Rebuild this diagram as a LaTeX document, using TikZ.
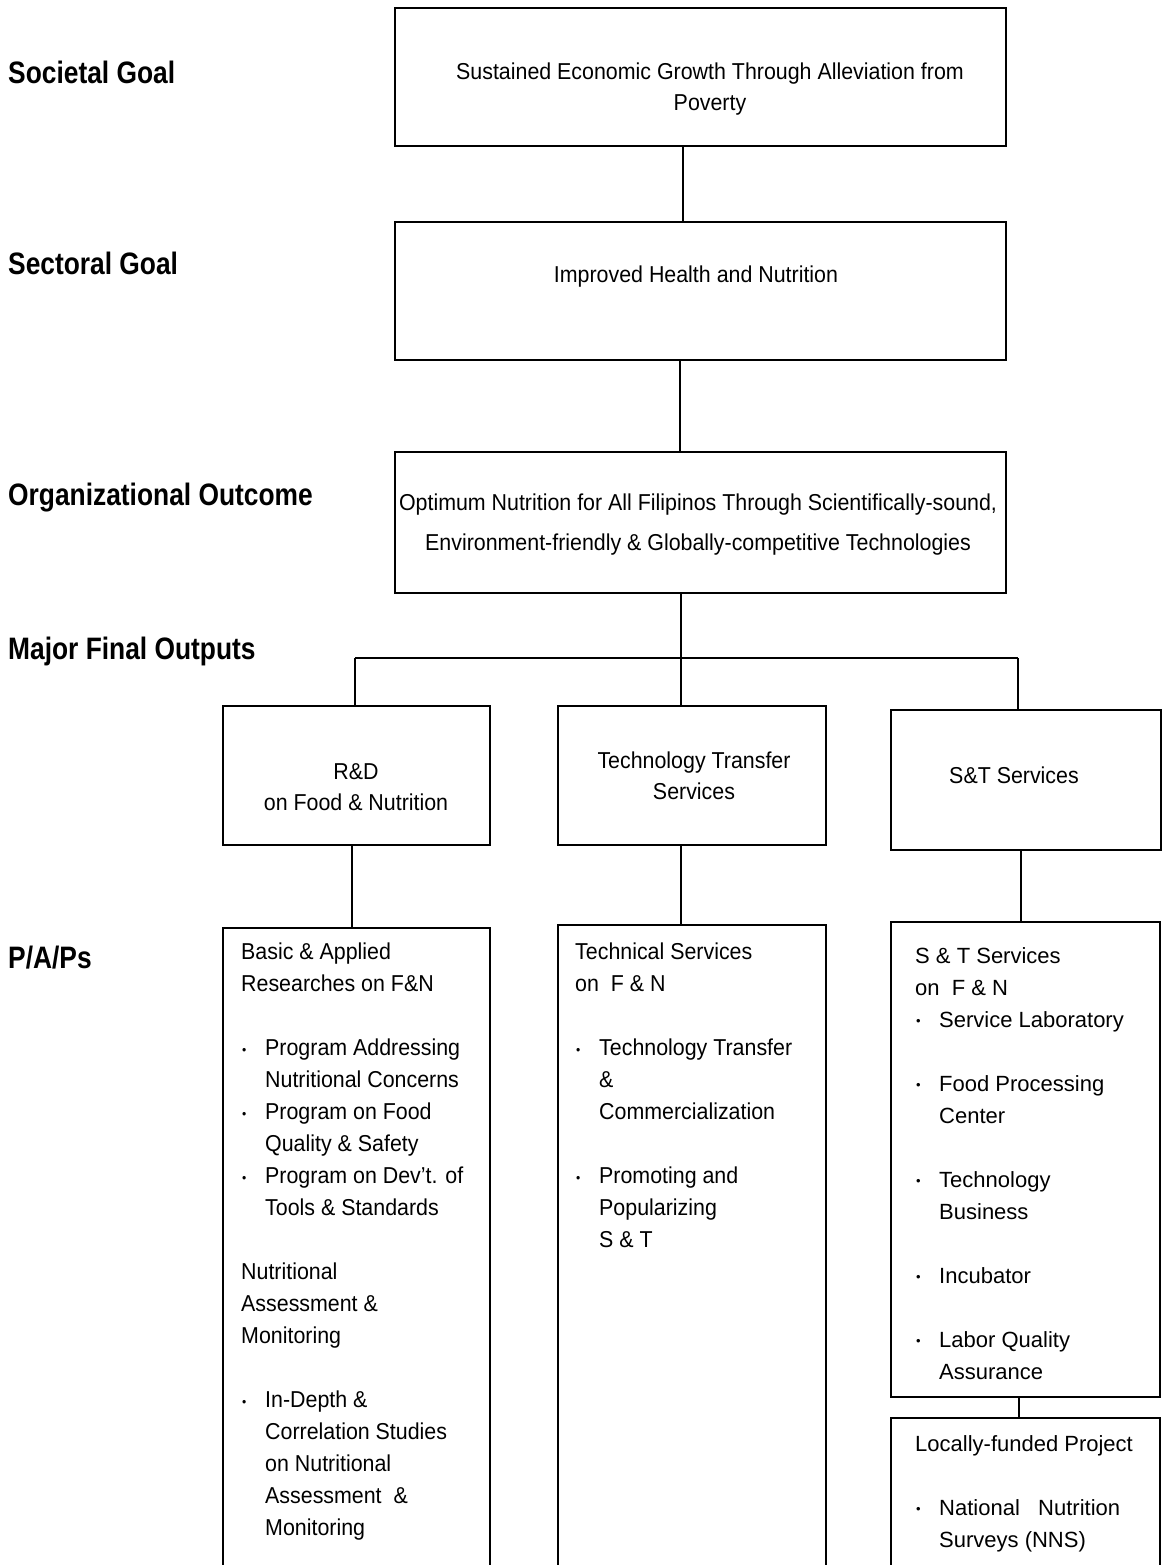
\documentclass[tikz,border=0pt]{standalone}
\usepackage{fontspec}
\setmainfont{Liberation Sans}
\newfontfamily\narrowfont[FakeStretch=0.93]{Liberation Sans}
\newfontfamily\headfont[FakeStretch=0.85]{Liberation Sans}
\usetikzlibrary{positioning}
\newcommand\itemdot{\makebox[24pt][l]{\hspace{1pt}\raisebox{1.5pt}{\fontsize{13}{13}\selectfont •}}}
\newcommand\itemgap{\hspace*{24pt}}

\begin{document}
\begin{tikzpicture}[x=1pt,y=-1pt]
          \useasboundingbox (0,0) rectangle (1164,1565);
          \tikzstyle{every edge}=[-,draw,line width=2pt]
          \tikzstyle{goalbox}=[draw,line width=2.4pt,inner sep=0pt,outer sep=0pt]
          \tikzstyle{tier}=[anchor=base west,inner sep=0pt,font={\headfont\bfseries\fontsize{31}{36}\selectfont}]
          \tikzstyle{boxtext}=[align=center,inner sep=0pt,font={\narrowfont\fontsize{23}{31}\selectfont}]
          \tikzstyle{listtext}=[anchor=north west,align=left,inner sep=0pt,font={\narrowfont\fontsize{23}{32}\selectfont}]
          \tikzstyle{plaintext}=[listtext,font={\fontsize{22}{32}\selectfont}]

          % level names on the left
          \node[tier] (tSoc) at (8,84) {Societal Goal};
          \node[tier] (tSec) at (8,274) {Sectoral Goal};
          \node[tier] (tOrg) at (8,505) {Organizational Outcome};
          \node[tier] (tMfo) at (8,659) {Major Final Outputs};
          \node[tier] (tPap) at (8,968) {P/A/Ps};

          % goal boxes
          \node[goalbox,minimum width=611pt,minimum height=138pt] (soc) at (700.5,77) {};
          \node[goalbox,minimum width=611pt,minimum height=138pt] (sec) at (700.5,291) {};
          \node[goalbox,minimum width=611pt,minimum height=141pt] (org) at (700.5,522.5) {};
          \node[boxtext] (socT) at (710,89.5) {Sustained Economic Growth Through Alleviation from\\Poverty};
          \node[boxtext] (secT) at (696,277) {Improved Health and Nutrition};
          \node[boxtext] (orgT) at (698,525) {Optimum Nutrition for All Filipinos Through Scientifically-sound,\\[9pt]
            Environment-friendly \& Globally-competitive Technologies};

          % major final outputs
          \node[goalbox,minimum width=267pt,minimum height=139pt] (rd) at (356.5,775.5) {};
          \node[goalbox,minimum width=268pt,minimum height=139pt] (tt) at (692,775.5) {};
          \node[goalbox,minimum width=270pt,minimum height=140pt] (st) at (1026,780) {};
          \node[boxtext] (rdT) at (356,787) {R\&D\\on Food \& Nutrition};
          \node[boxtext] (ttT) at (694,776) {Technology Transfer\\Services};
          \node[boxtext] (stT) at (1014,775) {S\&T Services};

          % programs, activities and projects
          \node[goalbox,minimum width=267pt,minimum height=652pt] (p1) at (356.5,1254) {};
          \node[goalbox,minimum width=268pt,minimum height=655pt] (p2) at (692,1252.5) {};
          \node[goalbox,minimum width=269pt,minimum height=475pt] (p3) at (1025.5,1159.5) {};
          \node[goalbox,minimum width=269pt,minimum height=162pt] (p4) at (1025.5,1499) {};

          \node[listtext,below right=15pt and 18pt of p1.north west] (p1T) {Basic \& Applied\\
            Researches on F\&N\\[32pt]
            \itemdot Program Addressing\\
            \itemgap Nutritional Concerns\\
            \itemdot Program on Food\\
            \itemgap Quality \& Safety\\
            \itemdot Program on Dev’t. of\\
            \itemgap Tools \& Standards\\[32pt]
            Nutritional\\
            Assessment \&\\
            Monitoring\\[32pt]
            \itemdot In-Depth \&\\
            \itemgap Correlation Studies\\
            \itemgap on Nutritional\\
            \itemgap Assessment\ \ \&\\
            \itemgap Monitoring};

          \node[listtext,below right=18pt and 17pt of p2.north west] (p2T) {Technical Services\\
            on\ \ F \& N\\[32pt]
            \itemdot Technology Transfer\\
            \itemgap \&\\
            \itemgap Commercialization\\[32pt]
            \itemdot Promoting and\\
            \itemgap Popularizing\\
            \itemgap S \& T};

          \node[plaintext,below right=25pt and 24pt of p3.north west] (p3T) {S \& T Services\\
            on\ \ F \& N\\
            \itemdot Service Laboratory\\[32pt]
            \itemdot Food Processing\\
            \itemgap Center\\[32pt]
            \itemdot Technology\\
            \itemgap Business\\[32pt]
            \itemdot Incubator\\[32pt]
            \itemdot Labor Quality\\
            \itemgap Assurance};

          \node[plaintext,below right=17pt and 24pt of p4.north west] (p4T) {Locally-funded Project\\[32pt]
            \itemdot National\ \ \ Nutrition\\
            \itemgap Surveys (NNS)};

          % connectors
          \coordinate (busL) at (355,658);
          \coordinate (busR) at (1018,658);
          \path ([xshift=-17.5pt]soc.south) edge ([xshift=-17.5pt]sec.north)
          ([xshift=-20.5pt]sec.south) edge ([xshift=-20.5pt]org.north)
          ([xshift=-19.5pt]org.south) edge ([xshift=-11pt]tt.north)
          (busL) edge (busR)
          (busL) edge (rd.north -| busL)
          (busR) edge (st.north -| busR);
          \path ([xshift=-4.5pt]rd.south) edge ([xshift=-4.5pt]p1.north)
          ([xshift=-11pt]tt.south) edge ([xshift=-11pt]p2.north)
          ([xshift=-5pt]st.south) edge ([xshift=-4.5pt]p3.north)
          ([xshift=-6.5pt]p3.south) edge ([xshift=-6.5pt]p4.north);
\end{tikzpicture}
\end{document}
